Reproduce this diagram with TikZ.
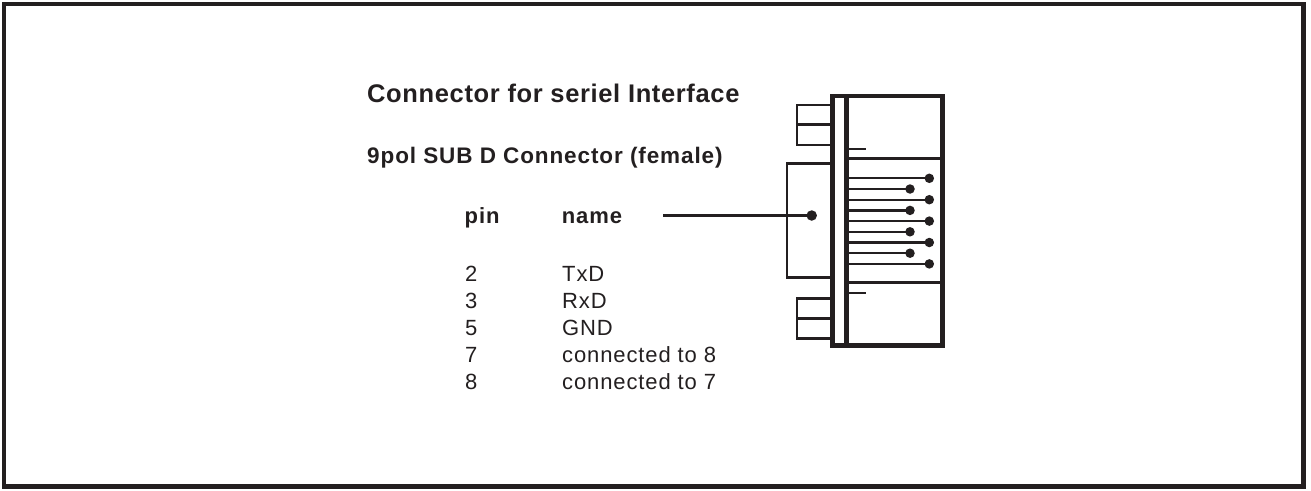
\documentclass[tikz,border=0pt]{standalone}
\usepackage{fontspec}
\setmainfont{Liberation Sans}
\definecolor{ink}{HTML}{231F20}
\tikzset{
  frameline/.style={draw=ink, line width=4.5pt},
  heavy/.style={draw=ink, line width=4.5pt},
  med/.style={draw=ink, line width=3pt},
  thinl/.style={draw=ink, line width=2.2pt},
  pindot/.style={circle, fill=ink, inner sep=0pt, minimum size=9.5pt},
  bodydot/.style={circle, fill=ink, inner sep=0pt, minimum size=10.5pt},
  lbl/.style={anchor=base west, inner sep=0pt, text=ink, font=\fontsize{22}{22}\selectfont\addfontfeature{LetterSpace=4}},
  blbl/.style={anchor=base west, inner sep=0pt, text=ink, font=\bfseries\fontsize{22}{22}\selectfont\addfontfeature{LetterSpace=4}},
  slbl/.style={anchor=base west, inner sep=0pt, text=ink, font=\bfseries\fontsize{22.5}{22.5}\selectfont\addfontfeature{LetterSpace=4}},
  tlbl/.style={anchor=base west, inner sep=0pt, text=ink, font=\bfseries\fontsize{25.5}{25.5}\selectfont\addfontfeature{LetterSpace=2.5}},
}
\begin{document}
\begin{tikzpicture}[x=1pt,y=-1pt]
\useasboundingbox (0,0) rectangle (1311,490);
\draw[frameline] (4.2,4.2) rectangle (1303.5,486.5);

% texts
\node[tlbl] (title) at (367,102.5) {Connector for seriel Interface};
\node[slbl] (sub) at (367,163.3) {9pol SUB D Connector (female)};
\node[blbl] (hpin) at (464.5,223) {pin};
\node[blbl] (hname) at (561.7,223) {name};
\node[lbl] (n2) at (465,281) {2};
\node[lbl] (t2) at (562,281) {TxD};
\node[lbl] (n3) at (465,308) {3};
\node[lbl] (t3) at (562,308) {RxD};
\node[lbl] (n5) at (465,335) {5};
\node[lbl] (t5) at (562,335) {GND};
\node[lbl] (n7) at (465,362) {7};
\node[lbl] (t7) at (562,362) {connected to 8};
\node[lbl] (n8) at (465,389) {8};
\node[lbl] (t8) at (562,389) {connected to 7};

% connector: small boxes
\draw[thinl] (830,105) -- (797,105) -- (797,145) -- (830,145);
\draw[thinl] (797,124.5) -- (830,124.5);
\draw[thinl] (830,298.5) -- (797,298.5) -- (797,338.5) -- (830,338.5);
\draw[thinl] (797,318.5) -- (830,318.5);
% body
\draw[thinl] (830,163.5) -- (787,163.5) -- (787,277.5) -- (830,277.5);
% main box and strip
\draw[heavy] (832.5,96) rectangle (942.5,345.5);
\draw[heavy] (846.5,96) -- (846.5,345.5);
\draw[med] (846.5,158.3) -- (942.5,158.3);
\draw[med] (846.5,282.3) -- (942.5,282.3);
\draw[thinl] (846.5,149.3) -- (866,149.3);
\draw[thinl] (846.5,293) -- (866,293);
\draw[med] (846.5,158.8) -- (866,158.8);

% pins
\foreach \i in {0,...,8}{
  \pgfmathsetmacro\py{178.3+10.7*\i}
  \pgfmathsetmacro\px{mod(\i,2)==0 ? 929.3 : 910}
  \node[pindot] (p\i) at (\px,\py) {};
  \coordinate (ps\i) at (849,\py);
  \draw[thinl] (ps\i) -- (p\i.center);
}

% wire to body
\node[bodydot] (bd) at (811.7,215.5) {};
\coordinate (ws) at (663,215.5);
\draw[thinl] (ws) -- (bd.center);
\end{tikzpicture}
\end{document}
